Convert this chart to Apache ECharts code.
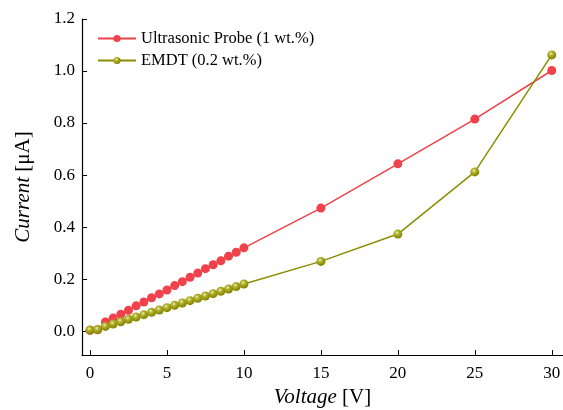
<!DOCTYPE html>
<html>
<head>
<meta charset="utf-8">
<script src="https://cdn.jsdelivr.net/npm/echarts@6/dist/echarts.min.js"></script>
<style>
  html, body { margin: 0; padding: 0; background: #fff; }
  #chart { width: 563px; height: 410px; }
</style>
</head>
<body>
<div id="chart"></div>
<script>
// voltage values [V]
var voltageDense = [0, 0.5, 1, 1.5, 2, 2.5, 3, 3.5, 4, 4.5, 5, 5.5, 6, 6.5, 7, 7.5, 8, 8.5, 9, 9.5, 10];
var voltageTail = [15, 20, 25, 30];
var voltage = voltageDense.concat(voltageTail);

// current values [uA]
var probeCurrent = [0.003, 0.005, 0.035, 0.05, 0.065, 0.08, 0.097, 0.112, 0.128, 0.143, 0.158,
  0.175, 0.19, 0.207, 0.223, 0.24, 0.255, 0.27, 0.288, 0.303, 0.32,
  0.473, 0.643, 0.815, 1.002];
var emdtCurrent = [0.004, 0.006, 0.018, 0.027, 0.036, 0.045, 0.054, 0.063, 0.072, 0.081, 0.09,
  0.099, 0.108, 0.117, 0.126, 0.135, 0.144, 0.153, 0.162, 0.171, 0.181,
  0.268, 0.373, 0.612, 1.062];

var xTicks = [0, 5, 10, 15, 20, 25, 30];
var yTicks = [0, 0.2, 0.4, 0.6, 0.8, 1.0, 1.2];

var probeColor = '#f0424a';
var emdtColor = '#8c8c00';

function pairs(xs, ys) {
  return xs.map(function (x, i) { return [x, ys[i]]; });
}

var chart = echarts.init(document.getElementById('chart'));
var font = 'Liberation Serif';

chart.setOption({
  animation: false,
  textStyle: { fontFamily: font },
  grid: { left: 82, right: 0, top: 19, bottom: 55, outerBoundsMode: 'none' },
  legend: {
    left: 97,
    top: 30,
    padding: 0,
    orient: 'vertical',
    itemWidth: 38,
    itemHeight: 9,
    itemGap: 5,
    textStyle: { fontFamily: font, fontSize: 16.5, color: '#000' },
    data: ['Ultrasonic Probe (1 wt.%)', 'EMDT (0.2 wt.%)']
  },
  xAxis: {
    type: 'value',
    min: -0.52,
    max: 30.73,
    name: '{i|Voltage} [V]',
    nameLocation: 'middle',
    nameGap: 32,
    nameTextStyle: {
      fontFamily: font, fontSize: 21, color: '#000',
      rich: { i: { fontFamily: font, fontSize: 21, fontStyle: 'italic', color: '#000' } }
    },
    splitLine: { show: false },
    axisLine: { onZero: false, lineStyle: { color: '#000', width: 1.2 } },
    axisTick: { inside: true, length: 5, customValues: xTicks, lineStyle: { color: '#000' } },
    axisLabel: { customValues: xTicks, fontFamily: font, fontSize: 17, color: '#000', margin: 10 }
  },
  yAxis: {
    type: 'value',
    min: -0.092,
    max: 1.2,
    name: '{i|Current} [μA]',
    nameLocation: 'middle',
    nameGap: 48,
    nameTextStyle: {
      fontFamily: font, fontSize: 21, color: '#000',
      rich: { i: { fontFamily: font, fontSize: 21, fontStyle: 'italic', color: '#000' } }
    },
    splitLine: { show: false },
    axisLine: { show: true, onZero: false, lineStyle: { color: '#000', width: 1.2 } },
    axisTick: { show: true, inside: true, length: 5, customValues: yTicks, lineStyle: { color: '#000' } },
    axisLabel: {
      customValues: yTicks, fontFamily: font, fontSize: 17, color: '#000', margin: 7,
      formatter: function (v) { return v.toFixed(1); }
    }
  },
  series: [
    {
      name: 'Ultrasonic Probe (1 wt.%)',
      type: 'line',
      data: pairs(voltage, probeCurrent),
      symbol: 'circle',
      symbolSize: 9,
      lineStyle: { color: probeColor, width: 1.5 },
      itemStyle: { color: probeColor }
    },
    {
      name: 'EMDT (0.2 wt.%)',
      type: 'line',
      data: pairs(voltage, emdtCurrent),
      symbol: 'circle',
      symbolSize: 9,
      lineStyle: { color: emdtColor, width: 1.5 },
      itemStyle: {
        color: {
          type: 'radial', x: 0.4, y: 0.35, r: 0.6,
          colorStops: [
            { offset: 0, color: '#f2f2c8' },
            { offset: 0.35, color: '#b4b430' },
            { offset: 1, color: '#858500' }
          ]
        }
      }
    }
  ]
});
</script>
</body>
</html>
